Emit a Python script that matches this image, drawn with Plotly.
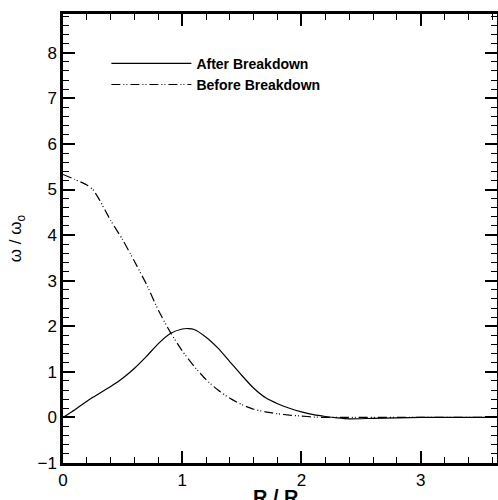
import plotly.graph_objects as go

# Radial distance r / R_o
r_after = [0, 0.1, 0.25, 0.4, 0.5, 0.6, 0.7, 0.8, 0.9, 1.0, 1.05, 1.1, 1.2, 1.3,
           1.4, 1.5, 1.6, 1.7, 1.8, 1.9, 2.0, 2.1, 2.2, 2.3, 2.4, 2.6, 3.0, 3.64]
w_after = [0, 0.17, 0.44, 0.68, 0.86, 1.08, 1.34, 1.62, 1.84, 1.94, 1.95, 1.93, 1.76, 1.52,
           1.22, 0.92, 0.64, 0.43, 0.30, 0.20, 0.12, 0.06, 0.02, -0.01, -0.03, -0.02, 0, 0]

r_before = [0, 0.1, 0.2, 0.25, 0.3, 0.4, 0.5, 0.6, 0.7, 0.8, 0.9, 1.0, 1.1, 1.2, 1.3,
            1.4, 1.5, 1.6, 1.7, 1.8, 1.9, 2.0, 2.1, 2.2, 2.4, 3.0, 3.64]
w_before = [5.33, 5.22, 5.10, 5.00, 4.80, 4.32, 3.90, 3.42, 2.92, 2.35, 1.87, 1.46, 1.12, 0.83, 0.60,
            0.42, 0.28, 0.18, 0.12, 0.08, 0.05, 0.03, 0.01, 0, 0, 0, 0]

series_names = ["After Breakdown", "Before Breakdown"]

X_RANGE = [0, 3.64]
Y_RANGE = [-1, 8.85]
x_major = [0, 1, 2, 3]

FONT = "Liberation Sans, Arial, sans-serif"

fig = go.Figure()
fig.add_trace(go.Scatter(x=r_after, y=w_after, mode="lines", name=series_names[0],
                         line=dict(color="black", width=1.2, shape="spline", smoothing=0.6)))
fig.add_trace(go.Scatter(x=r_before, y=w_before, mode="lines", name=series_names[1],
                         line=dict(color="black", width=1.2, shape="spline", smoothing=0.6,
                                   dash="9px,3px,1px,2px,1px,3px")))

tick_font = dict(family=FONT, size=17, color="black")
minor_ticks = dict(dtick=0.2, tick0=0, ticks="inside", ticklen=6, tickwidth=1, tickcolor="#000000")

fig.update_layout(
    template="none",
    width=498, height=500,
    margin=dict(l=63, r=1, t=14, b=37),
    paper_bgcolor="white", plot_bgcolor="white",
    xaxis=dict(
        range=X_RANGE, tickmode="array", tickvals=x_major, minor=minor_ticks,
        showline=True, linecolor="black", linewidth=2.5, mirror="ticks",
        ticks="inside", ticklen=12, tickwidth=2, tickcolor="#000000",
        showgrid=False, zeroline=False, tickfont=tick_font,
    ),
    yaxis=dict(
        range=Y_RANGE, dtick=1, tick0=0, minor=minor_ticks,
        showline=True, linecolor="black", linewidth=2.5, mirror="ticks",
        ticks="inside", ticklen=12, tickwidth=2, tickcolor="#000000",
        showgrid=False, zeroline=False, tickfont=tick_font,
        title=dict(text="ω / ω<sub>o</sub>", font=dict(family=FONT, size=17, color="black"),
                   standoff=12),
    ),
    showlegend=True,
    legend=dict(
        x=0.1, y=0.925, xanchor="left", yanchor="top",
        bgcolor="rgba(0,0,0,0)", borderwidth=0,
        font=dict(family=FONT, size=14, color="black", weight="bold"),
        itemwidth=80, tracegroupgap=0,
    ),
)

# x-axis title sits low, partly below the page edge
fig.add_annotation(
    text="<b>R / R<sub>o</sub></b>", xref="paper", yref="paper", x=0.5, y=-0.046,
    xanchor="center", yanchor="top", showarrow=False,
    font=dict(family=FONT, size=20, color="black"),
)

fig.write_html("out.html")
